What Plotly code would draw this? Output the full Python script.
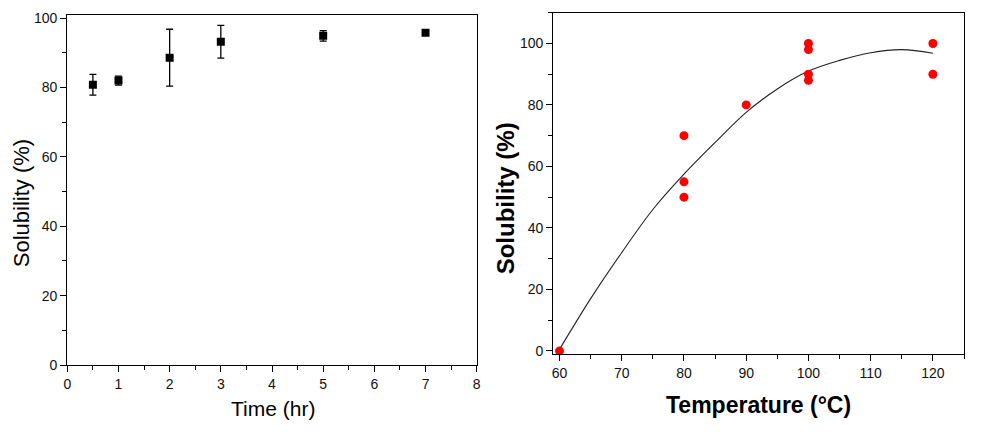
import plotly.graph_objects as go

# Left panel: solubility vs time
time_hr = [0.5, 1, 2, 3, 5, 7]
sol_time = [80.8, 82.0, 88.6, 93.2, 94.9, 95.8]
sol_time_err = [3.0, 1.3, 8.2, 4.7, 1.5, 0.5]

# Right panel: solubility vs temperature
temp_c = [60, 80, 80, 80, 90, 100, 100, 100, 100, 120, 120]
sol_temp = [0, 70, 55, 50, 80, 100, 98, 90, 88, 100, 90]

# Fitted curve
curve_x = [60, 65, 70, 75, 80, 85, 90, 95, 100, 105, 110, 115, 120]
curve_y = [0.5, 17, 32, 46, 57.5, 67.8, 77.6, 85.2, 91.0, 94.5, 97.0, 98.0, 96.8]

FONT = "Liberation Sans, Arial, sans-serif"
W, H = 987, 436

fig = go.Figure()

fig.add_trace(go.Scatter(
    x=time_hr, y=sol_time, mode="markers",
    marker=dict(symbol="square", size=8, color="black"),
    error_y=dict(type="data", array=sol_time_err, visible=True,
                 color="black", thickness=1.3, width=3.5),
    xaxis="x", yaxis="y", showlegend=False))

fig.add_trace(go.Scatter(
    x=curve_x, y=curve_y, mode="lines",
    line=dict(color="#222", width=1.1, shape="spline", smoothing=1.0),
    xaxis="x2", yaxis="y2", showlegend=False))

fig.add_trace(go.Scatter(
    x=temp_c, y=sol_temp, mode="markers",
    marker=dict(symbol="circle", size=9, color="#ff0000"),
    xaxis="x2", yaxis="y2", showlegend=False, cliponaxis=False))

tickfont = dict(family=FONT, size=14, color="#111")
common = dict(showline=True, linecolor="black", linewidth=1.4, mirror=True,
              ticks="outside", ticklen=6, tickwidth=1.2, tickcolor="black",
              showgrid=False, zeroline=False, tickfont=tickfont, automargin=False)

fig.update_layout(
    width=W, height=H, margin=dict(l=0, r=0, t=0, b=0),
    paper_bgcolor="white", plot_bgcolor="white",
    xaxis=dict(domain=[67.3 / W, 476.7 / W], anchor="y", range=[0, 8],
               dtick=1, tick0=0,
               minor=dict(ticks="outside", ticklen=4, dtick=0.5, tickcolor="black"),
               **common),
    yaxis=dict(domain=[71 / H, 421.3 / H], anchor="x", range=[0, 101],
               dtick=20, tick0=0,
               minor=dict(ticks="outside", ticklen=4, dtick=10, tickcolor="black"),
               **common),
    xaxis2=dict(domain=[553.3 / W, 964 / W], anchor="y2", range=[59, 125],
                dtick=10, tick0=60,
                minor=dict(ticks="outside", ticklen=4, dtick=5, tickcolor="black"),
                **common),
    yaxis2=dict(domain=[82 / H, 423.3 / H], anchor="x2", range=[-1, 110],
                tickvals=[0, 20, 40, 60, 80, 100],
                minor=dict(ticks="outside", ticklen=4, tickvals=[10, 30, 50, 70, 90, 110],
                           tickcolor="black"),
                **common),
    annotations=[
        dict(text="Time (hr)", x=272.5 / W, y=(H - 408) / H, xref="paper", yref="paper",
             showarrow=False, font=dict(family=FONT, size=21, color="black"),
             xanchor="center", yanchor="middle"),
        dict(text="Solubility (%)", x=21.7 / W, y=(H - 203.5) / H, xref="paper", yref="paper",
             showarrow=False, textangle=-90, font=dict(family=FONT, size=22, color="black"),
             xanchor="center", yanchor="middle"),
        dict(text="<b>Temperature (°C)</b>", x=758.3 / W, y=(H - 405) / H, xref="paper", yref="paper",
             showarrow=False, font=dict(family=FONT, size=23, color="black"),
             xanchor="center", yanchor="middle"),
        dict(text="<b>Solubility (%)</b>", x=505 / W, y=(H - 198.3) / H, xref="paper", yref="paper",
             showarrow=False, textangle=-90, font=dict(family=FONT, size=24, color="black"),
             xanchor="center", yanchor="middle"),
    ],
)

fig.write_html("out.html",
               config={"displayModeBar": False},
               post_script="document.body.style.margin='0';document.body.style.overflow='hidden';")
